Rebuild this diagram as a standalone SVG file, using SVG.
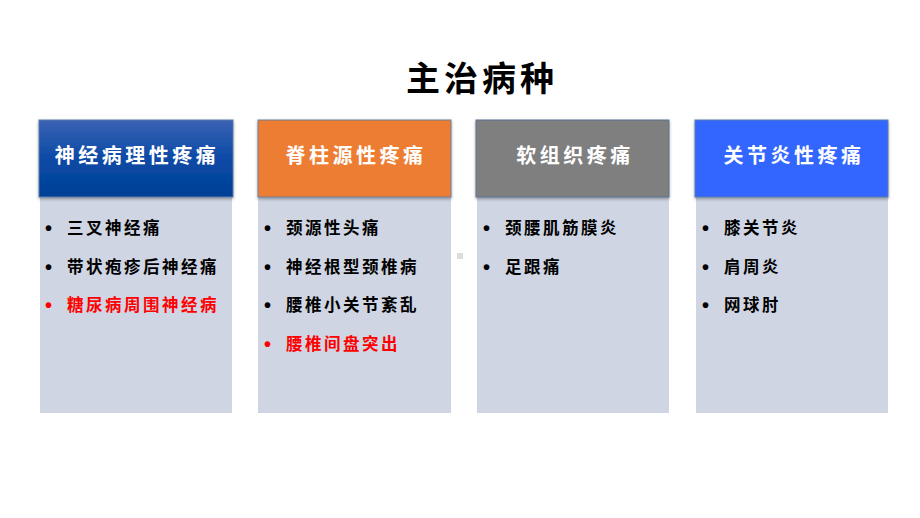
<svg xmlns="http://www.w3.org/2000/svg" width="920" height="518" viewBox="0 0 920 518">
<style>
.hd{font-family:"Noto Sans CJK SC","Noto Sans CJK JP",sans-serif;font-size:20px;font-weight:bold;fill:#ffffff;text-anchor:middle;letter-spacing:3.5px}
.it{font-family:"Noto Sans CJK SC","Noto Sans CJK JP",sans-serif;font-size:16.5px;font-weight:bold;fill:#000000;letter-spacing:2.5px}
.bu{font-family:"Liberation Sans",sans-serif;font-size:20px;font-weight:bold;fill:#000000}
.red{fill:#ff0000}
.body{fill:#cfd5e3}
.title{font-family:"Noto Sans CJK SC","Noto Sans CJK JP",sans-serif;font-size:34px;font-weight:bold;fill:#000;text-anchor:middle;letter-spacing:4px}
</style>
<defs>
<linearGradient id="gBlue" x1="0" y1="0" x2="0" y2="1">
<stop offset="0" stop-color="#3b62b4"/>
<stop offset="0.5" stop-color="#0b4aa6"/>
<stop offset="1" stop-color="#004096"/>
</linearGradient>
<filter id="sh" x="-5%" y="-5%" width="110%" height="115%">
<feDropShadow dx="0" dy="1.5" stdDeviation="1.5" flood-color="#000" flood-opacity="0.35"/>
</filter>
</defs>
<rect width="920" height="518" fill="#ffffff"/>
<text class="title" x="482" y="91">主治病种</text>
<rect x="457" y="253" width="6" height="6" fill="#dddddd"/>

<g id="col1">
<rect class="body" x="40" y="196" width="192" height="217"/>
<rect x="39" y="120" width="194" height="77" fill="url(#gBlue)" stroke="#5a7aa8" stroke-width="1" filter="url(#sh)"/>
<text class="hd" x="137" y="163">神经病理性疼痛</text>
<text class="bu" x="45" y="235">•</text><text class="it" x="67" y="234">三叉神经痛</text>
<text class="bu" x="45" y="274">•</text><text class="it" x="67" y="273">带状疱疹后神经痛</text>
<text class="bu red" x="45" y="312">•</text><text class="it red" x="67" y="311">糖尿病周围神经病</text>
</g>

<g id="col2">
<rect class="body" x="258" y="196" width="193" height="217"/>
<rect x="258" y="120" width="193" height="77" fill="#ed7d31" stroke="#6f7f98" stroke-width="1" filter="url(#sh)"/>
<text class="hd" x="356" y="163">脊柱源性疼痛</text>
<text class="bu" x="264" y="235">•</text><text class="it" x="286" y="234">颈源性头痛</text>
<text class="bu" x="264" y="274">•</text><text class="it" x="286" y="273">神经根型颈椎病</text>
<text class="bu" x="264" y="312">•</text><text class="it" x="286" y="311">腰椎小关节紊乱</text>
<text class="bu red" x="264" y="351">•</text><text class="it red" x="286" y="350">腰椎间盘突出</text>
</g>

<g id="col3">
<rect class="body" x="477" y="196" width="192" height="217"/>
<rect x="476" y="120" width="193" height="77" fill="#7f7f7f" stroke="#5a7396" stroke-width="1" filter="url(#sh)"/>
<text class="hd" x="575" y="163">软组织疼痛</text>
<text class="bu" x="483" y="235">•</text><text class="it" x="505" y="234">颈腰肌筋膜炎</text>
<text class="bu" x="483" y="274">•</text><text class="it" x="505" y="273">足跟痛</text>
</g>

<g id="col4">
<rect class="body" x="696" y="196" width="192" height="217"/>
<rect x="695" y="120" width="193" height="77" fill="#3366ff" stroke="#5a7aa8" stroke-width="1" filter="url(#sh)"/>
<text class="hd" x="794" y="163">关节炎性疼痛</text>
<text class="bu" x="702" y="235">•</text><text class="it" x="724" y="234">膝关节炎</text>
<text class="bu" x="702" y="274">•</text><text class="it" x="724" y="273">肩周炎</text>
<text class="bu" x="702" y="312">•</text><text class="it" x="724" y="311">网球肘</text>
</g>

<g id="connectors"></g>
</svg>
